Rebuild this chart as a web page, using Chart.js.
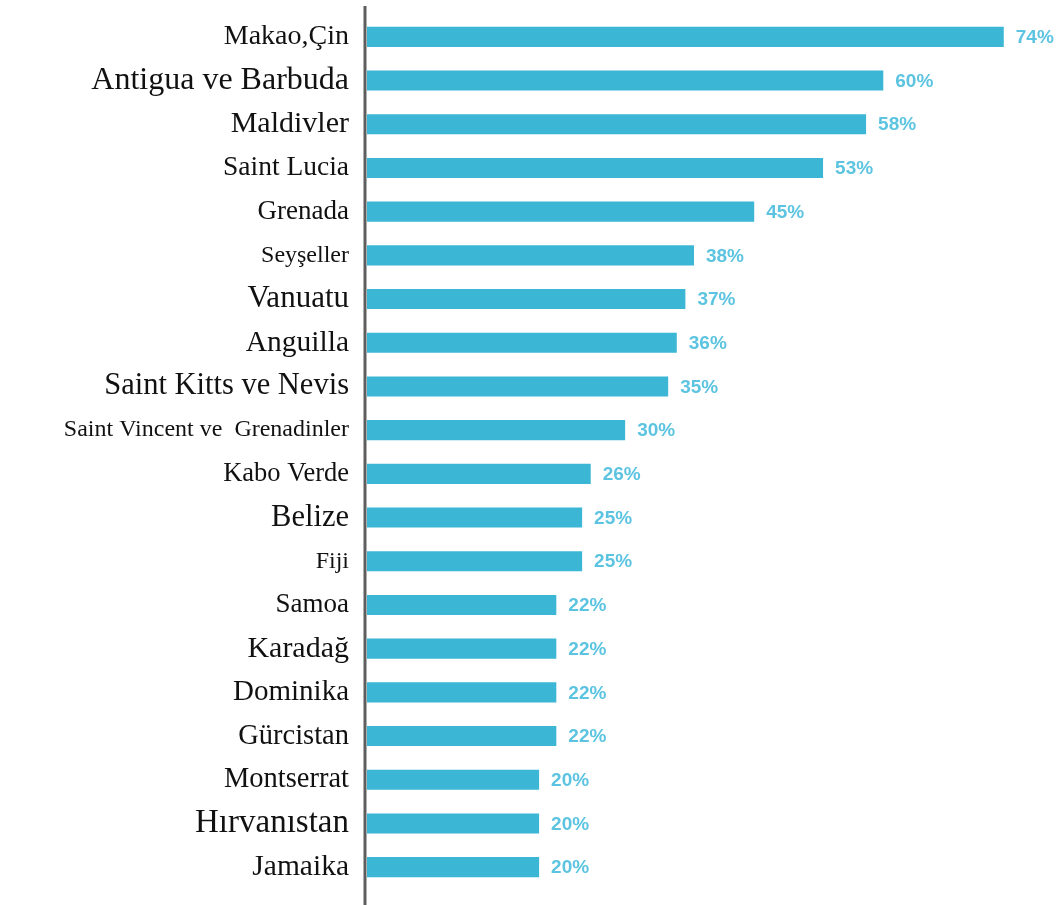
<!DOCTYPE html>
<html>
<head>
<meta charset="utf-8">
<script src="https://cdn.jsdelivr.net/npm/chart.js@4.4.1/dist/chart.umd.min.js"></script>
<style>
	html, body { margin: 0; padding: 0; background: #fff; overflow: hidden; }
	#wrap { width: 1064px; height: 905px; position: relative; }
</style>
</head>
<body>
<div id="wrap"><canvas id="chart"></canvas></div>
<script>
// Data
const countries = ['Makao,Çin', 'Antigua ve Barbuda', 'Maldivler', 'Saint Lucia', 'Grenada', 'Seyşeller',
	'Vanuatu', 'Anguilla', 'Saint Kitts ve Nevis', 'Saint Vincent ve  Grenadinler', 'Kabo Verde', 'Belize',
	'Fiji', 'Samoa', 'Karadağ', 'Dominika', 'Gürcistan', 'Montserrat', 'Hırvanıstan', 'Jamaika'];
const shares = [74, 60, 58, 53, 45, 38, 37, 36, 35, 30, 26, 25, 25, 22, 22, 22, 22, 20, 20, 20];

// label font sizes (the source mixes sizes)
const labelSizes = [28, 32, 30, 27.5, 27, 24, 31, 29.5, 30.5, 24, 26.5, 30.5, 24, 27, 30, 29, 28.5, 28.5, 33, 29.5];

const BAR_COLOR = '#3bb6d4';
const VALUE_COLOR = '#5cc4e0';

// dark vertical rule left of the bars, full height like the source
const axisRule = {
	id: 'axisRule',
	afterDatasetsDraw(chart){
		const c = chart.ctx;
		const x = chart.chartArea.left - 2;
		c.save();
		c.strokeStyle = '#5e5e5e';
		c.lineWidth = 3;
		c.beginPath();
		c.moveTo(x, 6);
		c.lineTo(x, chart.height);
		c.stroke();
		c.restore();
	}
};

// percent labels after each bar
const valueLabels = {
	id: 'valueLabels',
	afterDatasetsDraw(chart){
		const c = chart.ctx;
		const meta = chart.getDatasetMeta(0);
		c.save();
		c.fillStyle = VALUE_COLOR;
		c.font = 'bold 19px "Liberation Sans", Arial, sans-serif';
		c.textAlign = 'left';
		c.textBaseline = 'middle';
		meta.data.forEach(function(bar, i){
			c.fillText(shares[i] + '%', bar.x + 12, bar.y + 1);
		});
		c.restore();
	}
};

new Chart(document.getElementById('chart'), {
	type: 'bar',
	data: {
		labels: countries,
		datasets: [{
			data: shares,
			backgroundColor: BAR_COLOR,
			borderWidth: 0,
			barPercentage: 0.46,
			categoryPercentage: 1
		}]
	},
	options: {
		indexAxis: 'y',
		responsive: true,
		maintainAspectRatio: false,
		animation: false,
		layout: {
			padding: { top: 15, bottom: 16, left: 0, right: 0 }
		},
		plugins: {
			legend: { display: false },
			tooltip: { enabled: false }
		},
		scales: {
			x: {
				display: false,
				min: 0,
				max: 81
			},
			y: {
				afterFit: function(scale){
					scale.width = 367;
					// don't let the big labels push the plot inwards
					scale.paddingTop = 0;
					scale.paddingBottom = 0;
				},
				border: { display: false },
				grid: { display: false, drawTicks: false },
				ticks: {
					padding: 18,
					color: '#111',
					font: function(ctx){
						return { family: '"Liberation Serif", "Times New Roman", serif', size: labelSizes[ctx.index] || 28 };
					}
				}
			}
		}
	},
	plugins: [axisRule, valueLabels]
});
</script>
</body>
</html>
